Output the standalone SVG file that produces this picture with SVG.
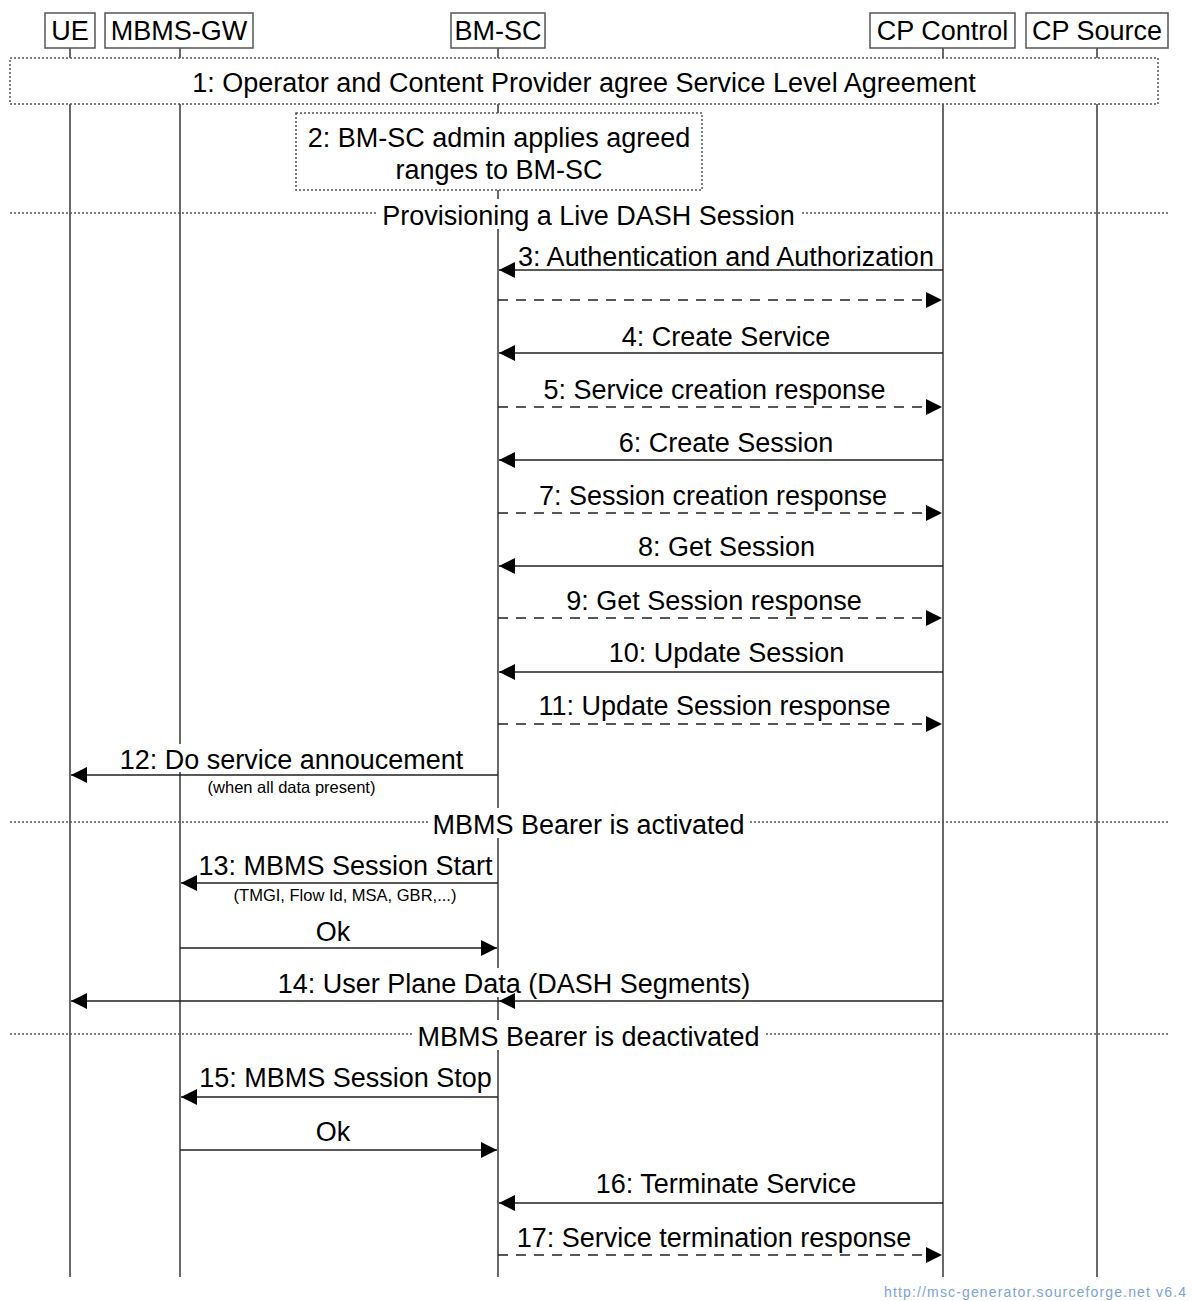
<svg xmlns="http://www.w3.org/2000/svg" width="1192" height="1301" viewBox="0 0 1192 1301">
<style>
text{font-family:"Liberation Sans",Arial,sans-serif;fill:#000}
.t{font-size:27px}
.m{text-anchor:middle}
.s{font-size:16.5px}
.ent{fill:#fff;stroke:#555;stroke-width:1.5}
.life{stroke:#444;stroke-width:1.6;fill:none}
.nbox{fill:#fff;stroke:#555;stroke-width:1.5;stroke-dasharray:2 2}
.div{stroke:#555;stroke-width:1.5;stroke-dasharray:2 2}
.bg{fill:#fff}
.a{stroke:#222;stroke-width:1.5;fill:none}
.d{stroke:#222;stroke-width:1.5;fill:none;stroke-dasharray:10 8}
.wm{font-size:14px;fill:#7ba4d6;letter-spacing:1.15px}
</style>
<defs>
<marker id="ah" viewBox="0 0 16 16" refX="16" refY="8" markerWidth="16" markerHeight="16" markerUnits="userSpaceOnUse" orient="auto">
<path d="M0,0 L16,8 L0,16 Z" fill="#000"/>
</marker>
</defs>

<g id="lifelines">
<line class="life" x1="70" y1="48" x2="70" y2="1277"/>
<line class="life" x1="180" y1="48" x2="180" y2="1277"/>
<line class="life" x1="498" y1="48" x2="498" y2="1277"/>
<line class="life" x1="943" y1="48" x2="943" y2="1277"/>
<line class="life" x1="1097" y1="48" x2="1097" y2="1277"/>
</g>

<g id="entities">
<g id="UE"><rect class="ent" x="45" y="13" width="50" height="35"/><text class="t m" x="70" y="40">UE</text></g>
<g id="MBMS-GW"><rect class="ent" x="105" y="13" width="148" height="35"/><text class="t m" x="179" y="40">MBMS-GW</text></g>
<g id="BM-SC"><rect class="ent" x="451" y="13" width="94" height="35"/><text class="t m" x="498" y="40">BM-SC</text></g>
<g id="CP-Control"><rect class="ent" x="870" y="13" width="145" height="35"/><text class="t m" x="942.5" y="40">CP Control</text></g>
<g id="CP-Source"><rect class="ent" x="1026" y="13" width="142" height="35"/><text class="t m" x="1097" y="40">CP Source</text></g>
</g>

<g id="dividers">
<g id="div-provisioning">
<line class="div" x1="10" y1="213" x2="1168" y2="213"/>
<rect class="bg" x="376" y="199" width="425" height="30"/>
<text class="t m" x="588.5" y="225">Provisioning a Live DASH Session</text>
</g>
<g id="div-activated">
<line class="div" x1="10" y1="822" x2="1168" y2="822"/>
<rect class="bg" x="428" y="808" width="321" height="30"/>
<text class="t m" x="588.5" y="834">MBMS Bearer is activated</text>
</g>
<g id="div-deactivated">
<line class="div" x1="10" y1="1034" x2="1168" y2="1034"/>
<rect class="bg" x="412" y="1020" width="353" height="30"/>
<text class="t m" x="588.5" y="1046">MBMS Bearer is deactivated</text>
</g>
</g>

<g id="note1">
<rect class="nbox" x="10" y="58" width="1148" height="46"/>
<text class="t m" x="584" y="92">1: Operator and Content Provider agree Service Level Agreement</text>
</g>
<g id="note2">
<rect class="nbox" x="296" y="113" width="406" height="77"/>
<text class="t m" x="499" y="147">2: BM-SC admin applies agreed</text>
<text class="t m" x="499" y="179">ranges to BM-SC</text>
</g>

<g id="connectors">
<line class="a" x1="943" y1="270" x2="499" y2="270" marker-end="url(#ah)"/>
<line class="d" x1="498" y1="300" x2="942" y2="300" marker-end="url(#ah)"/>
<line class="a" x1="943" y1="353" x2="499" y2="353" marker-end="url(#ah)"/>
<line class="d" x1="498" y1="407" x2="942" y2="407" marker-end="url(#ah)"/>
<line class="a" x1="943" y1="460" x2="499" y2="460" marker-end="url(#ah)"/>
<line class="d" x1="498" y1="513" x2="942" y2="513" marker-end="url(#ah)"/>
<line class="a" x1="943" y1="566" x2="499" y2="566" marker-end="url(#ah)"/>
<line class="d" x1="498" y1="618" x2="942" y2="618" marker-end="url(#ah)"/>
<line class="a" x1="943" y1="672" x2="499" y2="672" marker-end="url(#ah)"/>
<line class="d" x1="498" y1="724" x2="942" y2="724" marker-end="url(#ah)"/>
<rect class="bg" x="114" y="744" width="355" height="28"/>
<line class="a" x1="498" y1="775" x2="71" y2="775" marker-end="url(#ah)"/>
<line class="a" x1="498" y1="883" x2="181" y2="883" marker-end="url(#ah)"/>
<line class="a" x1="180" y1="948" x2="497" y2="948" marker-end="url(#ah)"/>
<rect class="bg" x="272" y="968" width="484" height="29"/>
<line class="a" x1="943" y1="1001" x2="71" y2="1001" marker-end="url(#ah)"/>
<path d="M515,993 L499,1001 L515,1009 Z" fill="#000"/>
<line class="a" x1="498" y1="1097" x2="181" y2="1097" marker-end="url(#ah)"/>
<line class="a" x1="180" y1="1150" x2="497" y2="1150" marker-end="url(#ah)"/>
<line class="a" x1="943" y1="1203" x2="499" y2="1203" marker-end="url(#ah)"/>
<line class="d" x1="498" y1="1255" x2="942" y2="1255" marker-end="url(#ah)"/>
</g>

<g id="labels">
<text class="t m" x="726" y="266">3: Authentication and Authorization</text>
<text class="t m" x="726" y="346">4: Create Service</text>
<text class="t m" x="714.5" y="399">5: Service creation response</text>
<text class="t m" x="726" y="452">6: Create Session</text>
<text class="t m" x="713" y="505">7: Session creation response</text>
<text class="t m" x="726.5" y="556">8: Get Session</text>
<text class="t m" x="714" y="610">9: Get Session response</text>
<text class="t m" x="726.5" y="662">10: Update Session</text>
<text class="t m" x="714.5" y="715">11: Update Session response</text>
<text class="t m" x="291.5" y="769">12: Do service annoucement</text>
<text class="s m" x="291.5" y="793">(when all data present)</text>
<text class="t m" x="345.5" y="875">13: MBMS Session Start</text>
<text class="s m" x="345" y="901">(TMGI, Flow Id, MSA, GBR,...)</text>
<text class="t m" x="333" y="941">Ok</text>
<text class="t m" x="514" y="993">14: User Plane Data (DASH Segments)</text>
<text class="t m" x="345.5" y="1087">15: MBMS Session Stop</text>
<text class="t m" x="333" y="1141">Ok</text>
<text class="t m" x="726" y="1193">16: Terminate Service</text>
<text class="t m" x="714" y="1247">17: Service termination response</text>
</g>

<text class="wm" x="884" y="1297">http://msc-generator.sourceforge.net v6.4</text>
</svg>
